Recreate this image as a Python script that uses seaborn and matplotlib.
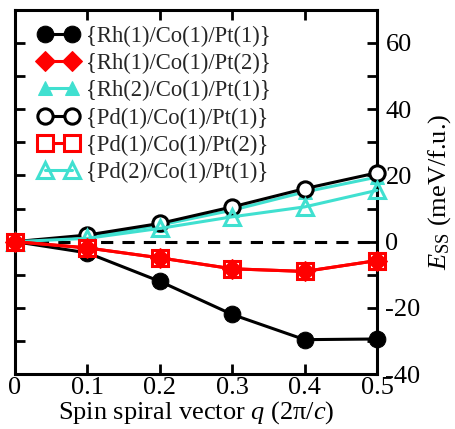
import matplotlib
matplotlib.use("Agg")
import matplotlib.pyplot as plt
import seaborn as sns
import numpy as np
from matplotlib.ticker import MultipleLocator, FixedLocator

sns.set_theme(style="white")
plt.rcParams['font.family'] = ['Liberation Serif', 'DejaVu Serif']
plt.rcParams['mathtext.fontset'] = 'custom'
plt.rcParams['mathtext.rm'] = 'Liberation Serif'
plt.rcParams['mathtext.it'] = 'Liberation Serif:italic'
plt.rcParams['axes.unicode_minus'] = False

q = [0.0, 0.1, 0.2, 0.3, 0.4, 0.5]
rh1_co1_pt1 = [0.0, -3.4, -12.0, -22.0, -29.6, -29.4]
rh1_co1_pt2 = [0.0, -1.9, -4.9, -8.2, -9.0, -5.7]
rh2_co1_pt1 = [0.0, 1.5, 5.0, 9.5, 15.0, 19.5]
pd1_co1_pt1 = [0.0, 2.0, 5.5, 10.5, 16.0, 20.8]
pd1_co1_pt2 = [0.0, -1.9, -4.9, -8.2, -9.0, -5.7]
pd2_co1_pt1 = [0.0, 1.0, 4.0, 7.5, 10.5, 15.5]

labels = ["{Rh(1)/Co(1)/Pt(1)}", "{Rh(1)/Co(1)/Pt(2)}", "{Rh(2)/Co(1)/Pt(1)}",
          "{Pd(1)/Co(1)/Pt(1)}", "{Pd(1)/Co(1)/Pt(2)}", "{Pd(2)/Co(1)/Pt(1)}"]
x_ticks = [0.0, 0.1, 0.2, 0.3, 0.4, 0.5]
x_ticklabels = ["0", "0.1", "0.2", "0.3", "0.4", "0.5"]
y_ticks = [-40, -20, 0, 20, 40, 60]

turq = "#40E0D0"
fig = plt.figure(figsize=(4.56, 4.29), dpi=100)
ax = fig.add_axes([0.033, 0.128, 0.794, 0.849])

ax.axhline(0, color="black", lw=2.2, ls=(0, (4, 3)), zorder=1)

lw = 2.2
styles = [
    (rh1_co1_pt1, dict(color="black", marker="o", ms=12, mfc="black", mec="black", zorder=3)),
    (rh1_co1_pt2, dict(color="red", marker="D", ms=10, mfc="red", mec="red", zorder=8)),
    (rh2_co1_pt1, dict(color=turq, marker="^", ms=10, mfc=turq, mec=turq, zorder=3)),
    (pd1_co1_pt1, dict(color="black", marker="o", ms=11, mfc="white", mec="black", mew=2.2, zorder=5)),
    (pd1_co1_pt2, dict(color="red", marker="s", ms=11, mfc="white", mec="red", mew=2.2, zorder=7)),
    (pd2_co1_pt1, dict(color=turq, marker="^", ms=12, mfc="none", mec=turq, mew=2.2, zorder=6)),
]
for (vals, st), lab in zip(styles, labels):
    sns.lineplot(x=q, y=vals, ax=ax, lw=lw, label=lab, clip_on=False, **st)

ax.set_xlim(0, 0.5)
ax.set_ylim(-40, 70)

ax.yaxis.tick_right()
ax.yaxis.set_label_position("right")
ax.yaxis.set_major_locator(FixedLocator(y_ticks))
ax.yaxis.set_minor_locator(MultipleLocator(10))
ax.xaxis.set_major_locator(FixedLocator(x_ticks))
ax.set_xticklabels(x_ticklabels)
ax.tick_params(axis="both", which="both", direction="in", top=True, bottom=True,
               left=True, right=True, length=7, width=2, labelsize=19, colors="black")
ax.tick_params(axis="y", pad=6)
ax.tick_params(axis="x", pad=2)
for s in ax.spines.values():
    s.set_linewidth(2.2)
    s.set_color("black")

ax.set_xlabel("Spin spiral vector $q$ (2π/$c$)", fontsize=19, labelpad=0, color="black")
ax.set_ylabel("$E_{\\rm SS}$ (meV/f.u.)", fontsize=19, labelpad=4, color="black", rotation=90)

leg = ax.legend(loc="upper left", bbox_to_anchor=(0.02, 1.0), frameon=False, numpoints=2,
                fontsize=16.3, handlelength=1.8, handletextpad=0.3, labelspacing=0.27,
                borderaxespad=0.3)

fig.savefig("out.png", dpi=100)
